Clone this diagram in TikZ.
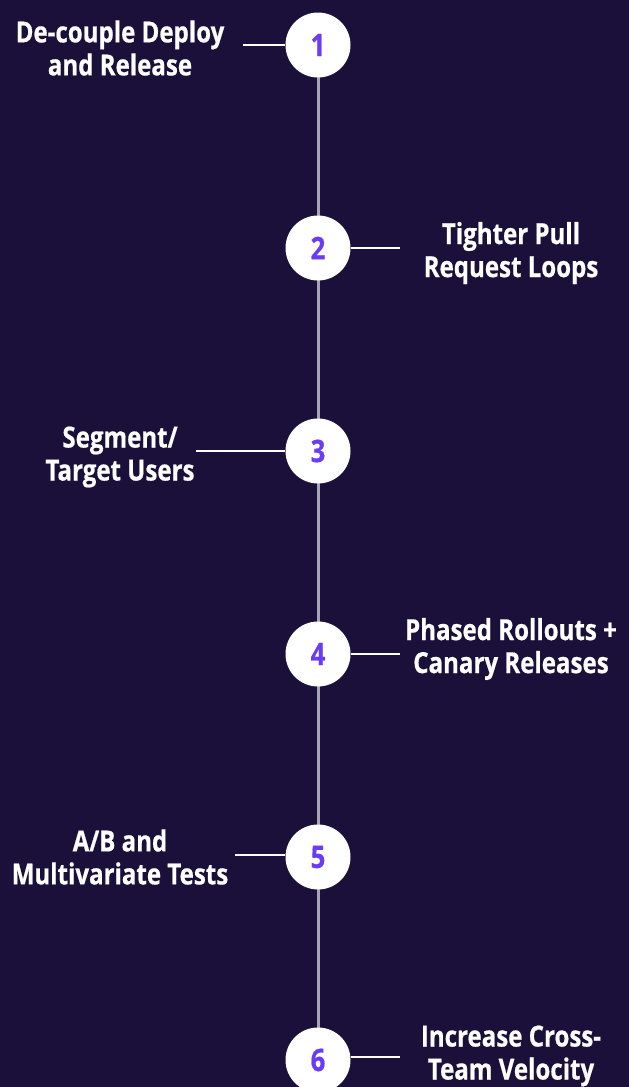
\documentclass[tikz,border=0pt]{standalone}
\usepackage{fontspec}
\setmainfont{Open Sans}[FakeStretch=0.83,FakeBold=0.6]
\definecolor{bgnavy}{HTML}{1A1039}
\definecolor{stemgray}{HTML}{A8A4B8}
\definecolor{numpurple}{HTML}{6A3CF6}
\begin{document}
\begin{tikzpicture}[x=1pt,y=-1pt,
  stepcircle/.style={circle,fill=white,minimum size=65pt,inner sep=0pt,
    text=numpurple,font=\fontsize{31}{31}\selectfont\bfseries},
  steplabel/.style={align=center,text=white,inner sep=0pt,
    font=\fontsize{29}{33}\selectfont\bfseries},
  tick/.style={draw=white,line width=2.6pt},
  stem/.style={draw=stemgray,line width=3pt}]
\fill[bgnavy] (0,0) rectangle (629,1087);
\useasboundingbox (0,0) rectangle (629,1087);
% timeline stem
\coordinate (top) at (318,45);
\coordinate (bottom) at (318,1087);
\draw[stem] (top) -- (bottom);
% step circles
\foreach \i/\y in {1/45,2/248,3/451,4/654,5/857,6/1060}
  \node[stepcircle] (c\i) at (318,\y) {\i};
% labels
\node[steplabel] (t1) at (120,48) {De-couple Deploy\\and Release};
\node[steplabel] (t2) at (511,253) {Tighter Pull\\Request Loops};
\node[steplabel] (t3) at (120,457) {Segment/\\Target Users};
\node[steplabel] (t4) at (511,649) {Phased Rollouts +\\Canary Releases};
\node[steplabel] (t5) at (120,857) {A/B and\\Multivariate Tests};
\node[steplabel] (t6) at (511,1056) {Increase Cross-\\Team Velocity};
% tick connectors
\coordinate (k1) at (243,45);
\coordinate (k2) at (400,248);
\coordinate (k3) at (196,451);
\coordinate (k4) at (400,654);
\coordinate (k5) at (235,855);
\coordinate (k6) at (400,1057);
\draw[tick] (k1) -- (c1.west |- k1);
\draw[tick] (c2.east |- k2) -- (k2);
\draw[tick] (k3) -- (c3.west |- k3);
\draw[tick] (c4.east |- k4) -- (k4);
\draw[tick] (k5) -- (c5.west |- k5);
\draw[tick] (c6.east |- k6) -- (k6);
\end{tikzpicture}
\end{document}
